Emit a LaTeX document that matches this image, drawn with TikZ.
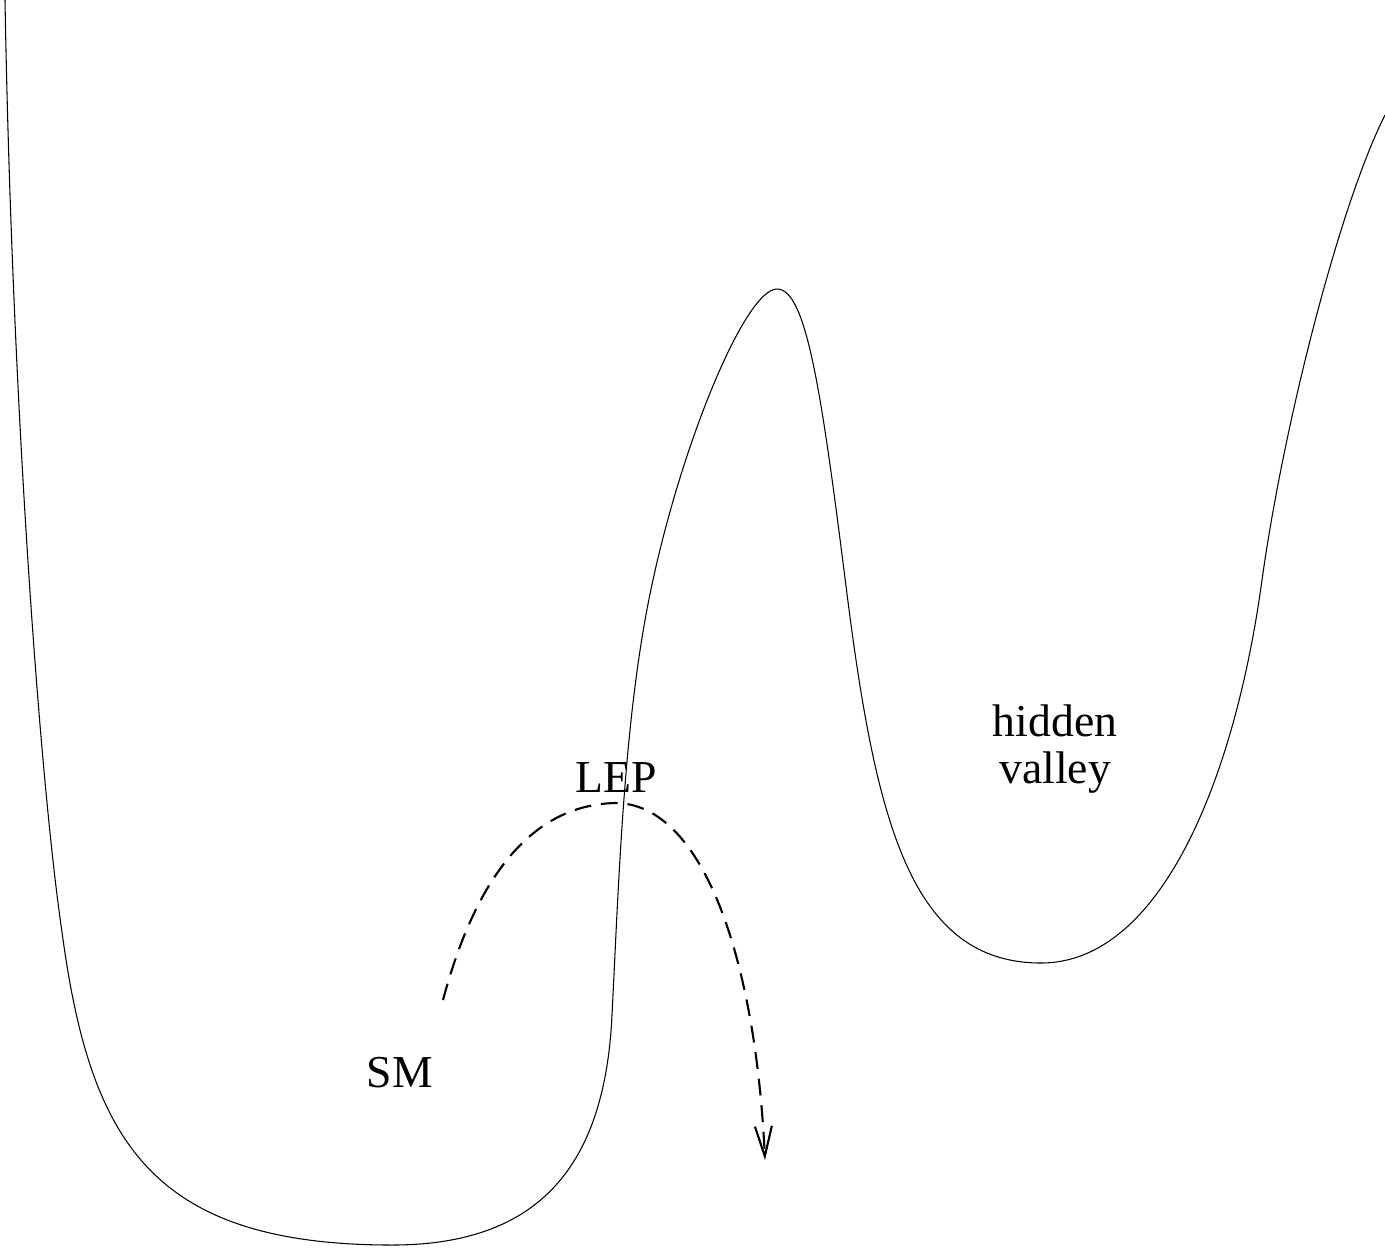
\documentclass[tikz,border=0pt]{standalone}
\usepackage{fontspec}
\setmainfont{Liberation Serif}
\usetikzlibrary{arrows.meta}

\begin{document}
\begin{tikzpicture}[
        x=0.01cm, y=-0.01cm,
        every node/.style={align=center, font=\fontsize{13}{13.6}\selectfont, inner sep=0pt},
        landscape/.style={line width=0.3pt, line join=round},
        trail/.style={line width=0.6pt, dash pattern=on 4.8pt off 2.8pt, -{Straight Barb[length=0.3cm, width=0.17cm, line width=0.6pt]}},
        tag/.style={anchor=base}
    ]
        \useasboundingbox (0,0) rectangle (1385,1250);

        % potential landscape
        \draw[landscape] (5,0)
            .. controls (12,400) and (40,782) .. (62,932)
            .. controls (90,1140) and (150,1245) .. (392,1245)
            .. controls (540,1245) and (605,1165) .. (612,1015)
            .. controls (619,876) and (624,721) .. (650,594)
            .. controls (680,447) and (745,289) .. (777,289)
            .. controls (807,289) and (822,396) .. (847,594)
            .. controls (876,822) and (911,963) .. (1041,963)
            .. controls (1161,963) and (1235,778) .. (1262,580)
            .. controls (1284,422) and (1340,204) .. (1385,115);

        \node[tag] (sm)  at (400, 1087) {SM};
        \node[tag] (lep) at (616, 792)  {LEP};
        \node (hv) at (1055, 749) {hidden\\valley};

        \coordinate (start) at (443, 1000);
        \coordinate (top)   at (615, 803);
        \coordinate (tip)   at (765, 1160);

        % escape over the barrier
        \draw[trail] (start) .. controls (475, 880) and (530, 805) .. (top)
                             .. controls (700, 803) and (755, 950) .. (tip);
    \end{tikzpicture}
\end{document}
